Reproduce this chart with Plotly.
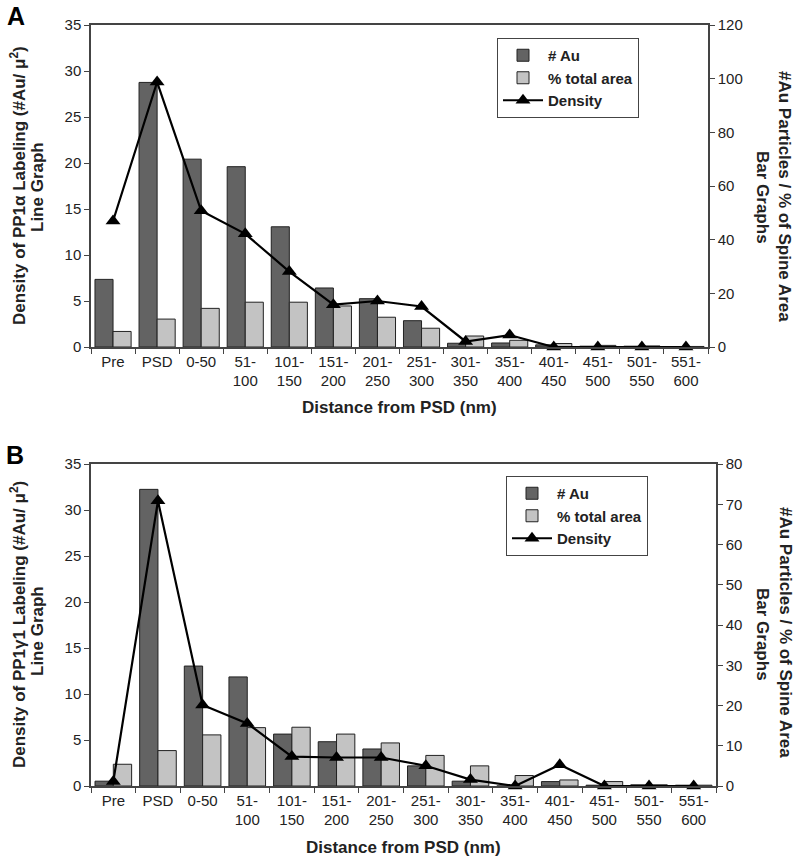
import plotly.graph_objects as go

# ---------------- data ----------------
categories = ["Pre", "PSD", "0-50", "51-100", "101-150", "151-200", "201-250",
              "251-300", "301-350", "351-400", "401-450", "451-500", "501-550", "551-600"]
tick_labels = ["Pre", "PSD", "0-50", "51-<br>100", "101-<br>150", "151-<br>200", "201-<br>250",
               "251-<br>300", "301-<br>350", "351-<br>400", "401-<br>450", "451-<br>500",
               "501-<br>550", "551-<br>600"]

# Panel A (PP1alpha)
a_au = [25.2, 98.6, 70.0, 67.2, 44.8, 22.0, 18.0, 9.8, 1.4, 1.5, 0.8, 0.3, 0.3, 0.1]
a_area = [5.8, 10.4, 14.4, 16.7, 16.7, 15.3, 11.1, 7.0, 4.1, 2.5, 1.3, 0.6, 0.4, 0.2]
a_density = [13.7, 28.8, 14.8, 12.3, 8.2, 4.6, 5.0, 4.4, 0.6, 1.3, 0.0, 0.0, 0.0, 0.0]

# Panel B (PP1gamma1)
b_au = [1.2, 73.7, 29.8, 27.1, 12.9, 11.0, 9.2, 5.0, 1.2, 0.0, 1.1, 0.2, 0.3, 0.2]
b_area = [5.4, 8.8, 12.7, 14.5, 14.6, 12.9, 10.7, 7.6, 5.0, 2.6, 1.5, 1.1, 0.3, 0.2]
b_density = [0.5, 31.0, 8.8, 6.8, 3.2, 3.1, 3.1, 2.2, 0.7, 0.0, 2.3, 0.0, 0.0, 0.0]

DARK = "#636363"
LIGHT = "#c3c3c3"
AXC = "#444444"
FONT = "Liberation Sans, Arial, sans-serif"

W, H = 800, 858
def px(x): return x / W
def py(y): return 1 - y / H

fig = go.Figure()

def add_panel(xa, ybar, yline, au, area, dens, legend):
    fig.add_trace(go.Bar(x=categories, y=au, name="# Au", xaxis=xa, yaxis=ybar,
                         marker=dict(color=DARK, line=dict(color="#222222", width=1)),
                         legend=legend, legendgroup=legend + "a"))
    fig.add_trace(go.Bar(x=categories, y=area, name="% total area", xaxis=xa, yaxis=ybar,
                         marker=dict(color=LIGHT, line=dict(color="#222222", width=1)),
                         legend=legend, legendgroup=legend + "b"))
    fig.add_trace(go.Scatter(x=categories, y=dens, name="Density", xaxis=xa, yaxis=yline,
                             mode="lines+markers", cliponaxis=False,
                             line=dict(color="black", width=2.2),
                             marker=dict(symbol="triangle-up", size=13, color="black"),
                             legend=legend, legendgroup=legend + "c"))

add_panel("x", "y", "y2", a_au, a_area, a_density, "legend")
add_panel("x2", "y3", "y4", b_au, b_area, b_density, "legend2")

tickfont = dict(family=FONT, size=15, color="#222222")
xcommon = dict(type="category", categoryorder="array", categoryarray=categories,
               tickmode="array", tickvals=categories, ticktext=tick_labels,
               tickson="boundaries", ticks="outside", ticklen=5, tickcolor=AXC,
               showline=True, linecolor=AXC, linewidth=1.5, mirror=True,
               showgrid=False, zeroline=False, tickfont=tickfont, automargin=False,
               range=[-0.5, 13.5])
ycommon = dict(showline=True, linecolor=AXC, linewidth=1.5, ticks="outside", ticklen=5,
               tickcolor=AXC, showgrid=False, zeroline=False, tickfont=tickfont,
               automargin=False)

legfont = dict(family=FONT, size=15, weight="bold", color="#222222")
fig.update_layout(
    width=W, height=H,
    margin=dict(l=0, r=0, t=0, b=0),
    paper_bgcolor="white", plot_bgcolor="white",
    barmode="group", bargap=0.18, bargroupgap=0,
    font=dict(family=FONT, color="#222222"),
    xaxis=dict(domain=[px(91), px(708)], anchor="y", **xcommon),
    yaxis=dict(domain=[py(347), py(25)], anchor="x", side="right", range=[0, 120],
               dtick=20, **ycommon),
    yaxis2=dict(overlaying="y", anchor="x", side="left", range=[0, 35], dtick=5,
                **ycommon),
    xaxis2=dict(domain=[px(91), px(716)], anchor="y3", **xcommon),
    yaxis3=dict(domain=[py(786), py(464)], anchor="x2", side="right", range=[0, 80],
                dtick=10, **ycommon),
    yaxis4=dict(overlaying="y3", anchor="x2", side="left", range=[0, 35], dtick=5,
                **ycommon),
    legend=dict(x=px(497), y=py(38), xanchor="left", yanchor="top",
                bgcolor="white", bordercolor=AXC, borderwidth=1, itemwidth=40,
                font=legfont, tracegroupgap=9, traceorder="normal"),
    legend2=dict(x=px(506), y=py(476), xanchor="left", yanchor="top",
                 bgcolor="white", bordercolor=AXC, borderwidth=1, itemwidth=40,
                 font=legfont, tracegroupgap=0, traceorder="normal"),
)

titlefont = dict(family=FONT, size=17, color="#222222", weight="bold")
ann = []
ann.append(dict(text="A", x=px(16), y=py(16), font=dict(family=FONT, size=25, weight="bold", color="black")))
ann.append(dict(text="B", x=px(15), y=py(455), font=dict(family=FONT, size=25, weight="bold", color="black")))
# Panel A axis titles
ann.append(dict(text="Density of PP1\u03b1 Labeling (#Au/ \u03bc<sup>2</sup>)",
                x=px(18), y=py(186), textangle=-90, font=titlefont))
ann.append(dict(text="Line Graph", x=px(37), y=py(187), textangle=-90, font=titlefont))
ann.append(dict(text="#Au Particles / % of Spine Area",
                x=px(785), y=py(196), textangle=90, font=titlefont))
ann.append(dict(text="Bar Graphs", x=px(763), y=py(197), textangle=90, font=titlefont))
ann.append(dict(text="Distance from PSD (nm)", x=px(399), y=py(407), font=titlefont))
# Panel B axis titles
ann.append(dict(text="Density of PP1\u03b31 Labeling (#Au/ \u03bc<sup>2</sup>)",
                x=px(18), y=py(625), textangle=-90, font=titlefont))
ann.append(dict(text="Line Graph", x=px(37), y=py(631), textangle=-90, font=titlefont))
ann.append(dict(text="#Au Particles / % of Spine Area",
                x=px(786), y=py(632), textangle=90, font=titlefont))
ann.append(dict(text="Bar Graphs", x=px(763), y=py(634), textangle=90, font=titlefont))
ann.append(dict(text="Distance from PSD (nm)", x=px(403), y=py(847), font=titlefont))
for a in ann:
    a.update(xref="paper", yref="paper", showarrow=False, xanchor="center", yanchor="middle")
fig.update_layout(annotations=ann)

fig.write_html("out.html", config={"displayModeBar": False},
               post_script="document.body.style.margin='0';")
